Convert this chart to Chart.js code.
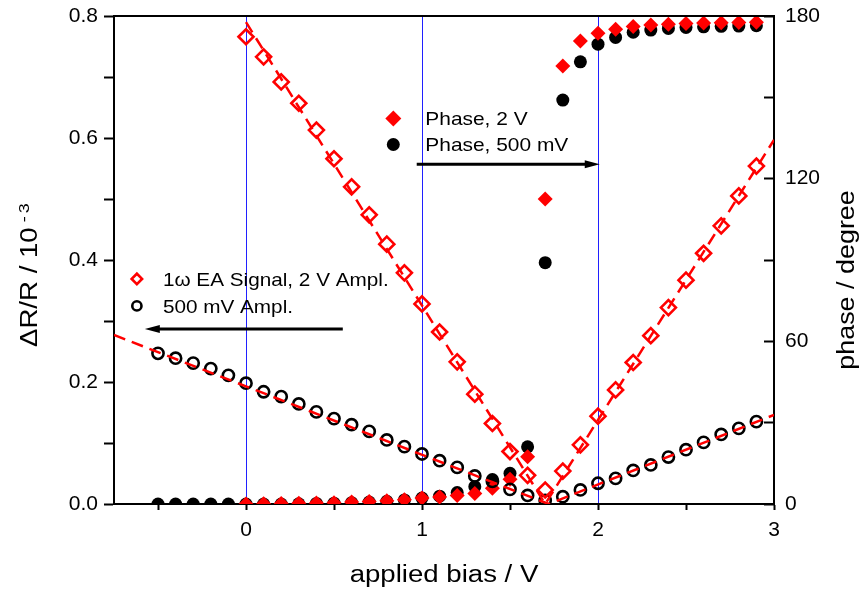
<!DOCTYPE html>
<html>
<head>
<meta charset="utf-8">
<script src="https://cdn.jsdelivr.net/npm/chart.js@4"></script>
<style>
  html, body { margin: 0; padding: 0; background: #fff; }
  canvas { display: block; }
</style>
</head>
<body>
<canvas id="c" width="862" height="592"></canvas>
<script>
// bias values (V)
const bias2V = [0.0,0.1,0.2,0.3,0.4,0.5,0.6,0.7,0.8,0.9,1.0,1.1,1.2,1.3,1.4,1.5,1.6,1.7,1.8,1.9,
                2.0,2.1,2.2,2.3,2.4,2.5,2.6,2.7,2.8,2.9];
const bias500 = [-0.5,-0.4,-0.3,-0.2,-0.1,0.0,0.1,0.2,0.3,0.4,0.5,0.6,0.7,0.8,0.9,1.0,1.1,1.2,1.3,1.4,
                 1.5,1.6,1.7,1.8,1.9,2.0,2.1,2.2,2.3,2.4,2.5,2.6,2.7,2.8,2.9];

// 1w EA signal dR/R (1e-3)
const ea2V = [0.766,0.733,0.692,0.657,0.613,0.566,0.520,0.474,0.426,0.379,0.328,0.282,0.233,0.180,0.132,
              0.086,0.047,0.023,0.054,0.097,0.144,0.187,0.232,0.276,0.322,0.367,0.411,0.456,0.505,0.554];
const ea500 = [0.247,0.239,0.231,0.222,0.211,0.198,0.184,0.176,0.164,0.151,0.140,0.130,0.119,0.105,0.094,
               0.082,0.071,0.060,0.046,0.037,0.024,0.014,0.006,0.012,0.023,0.034,0.042,0.055,0.064,0.077,
               0.089,0.101,0.114,0.124,0.135];

// phase (degree)
const phase2V = [0.0,0.1,0.2,0.3,0.4,0.5,0.7,0.9,1.2,1.6,2.2,2.6,3.1,3.9,5.8,9.1,17.4,112.5,161.6,170.8,
                 173.6,175.1,176.1,176.7,177.0,177.2,177.4,177.5,177.6,177.7];
const phase500 = [0,0,0,0,0,0,0,0,0.1,0.2,0.3,0.5,0.7,1.0,1.5,2.2,2.9,4.2,6.4,9.0,11.3,21.1,89.0,149.0,163.1,
                  169.6,172.1,174.0,174.8,175.4,175.8,176.0,176.2,176.3,176.4];

// dashed fit lines
const fit2VX = [0.0, 1.7, 3.0];
const fit2VY = [0.79, 0.0, 0.597];
const fit500X = [-0.75, 1.72, 3.0];
const fit500Y = [0.277, 0.0, 0.146];

// tick positions carrying labels
const xLabels = [0, 1, 2, 3];
const blueLines = [0, 1, 2];

const pts = (xs, ys) => xs.map((x, i) => ({x: x, y: ys[i]}));
const FONT = '"Liberation Sans", Arial, sans-serif';

function sText(ctx, txt, x, y, size, sx, rot, align) {
  ctx.save();
  ctx.translate(x, y);
  ctx.rotate(rot || 0);
  ctx.scale(sx, 1);
  ctx.font = size + 'px ' + FONT;
  ctx.fillStyle = '#000';
  ctx.textAlign = align || 'left';
  ctx.textBaseline = 'alphabetic';
  ctx.fillText(txt, 0, 0);
  ctx.restore();
}

function arrow(ctx, x1, x2, y) {
  const dir = Math.sign(x2 - x1);
  ctx.save();
  ctx.strokeStyle = '#000';
  ctx.fillStyle = '#000';
  ctx.lineWidth = 3;
  ctx.beginPath();
  ctx.moveTo(x1, y);
  ctx.lineTo(x2 - dir * 12, y);
  ctx.stroke();
  ctx.beginPath();
  ctx.moveTo(x2, y);
  ctx.lineTo(x2 - dir * 15, y - 4);
  ctx.lineTo(x2 - dir * 15, y + 4);
  ctx.closePath();
  ctx.fill();
  ctx.restore();
}

function marker(ctx, style, r, x, y, fill, stroke, bw) {
  ctx.save();
  ctx.fillStyle = fill;
  ctx.strokeStyle = stroke;
  ctx.lineWidth = bw;
  Chart.helpers.drawPoint(ctx, {pointStyle: style, radius: r, borderWidth: bw, rotation: 0}, x, y);
  ctx.restore();
}

// fixed box sizes so the plot area sits where the original one does
const noPad = s => { s.paddingTop = 0; s.paddingBottom = 0; s.paddingLeft = 0; s.paddingRight = 0; };

const decor = {
  id: 'decor',
  afterDatasetsDraw(chart) {
    const ctx = chart.ctx;
    const a = chart.chartArea;
    const sx = chart.scales.x, sy = chart.scales.y;

    // top frame line
    ctx.save();
    ctx.strokeStyle = '#000';
    ctx.lineWidth = 2;
    ctx.beginPath();
    ctx.moveTo(a.left - 1, a.top);
    ctx.lineTo(a.right + 1, a.top);
    ctx.stroke();
    ctx.restore();

    // arrows
    arrow(ctx, sx.getPixelForValue(0.55), sx.getPixelForValue(-0.575), sy.getPixelForValue(0.287));
    arrow(ctx, sx.getPixelForValue(0.97), sx.getPixelForValue(2.01), sy.getPixelForValue(0.557));

    // legend: EA signal
    let lx = sx.getPixelForValue(-0.62), ly = sy.getPixelForValue(0.369);
    marker(ctx, 'rectRot', 5.2, lx, ly, 'rgba(0,0,0,0)', '#ff0000', 2.6);
    marker(ctx, 'circle', 4.6, lx, ly + 27, 'rgba(0,0,0,0)', '#000', 2.6);
    sText(ctx, '1ω EA Signal, 2 V Ampl.', lx + 26, ly + 7, 18.5, 1.12);
    sText(ctx, '500 mV Ampl.', lx + 26, ly + 34, 18.5, 1.12);

    // legend: phase
    lx = sx.getPixelForValue(0.837); ly = sy.getPixelForValue(0.632);
    marker(ctx, 'rectRot', 8, lx, ly, '#ff0000', '#ff0000', 0);
    marker(ctx, 'circle', 6.5, lx, ly + 26, '#000', '#000', 0);
    sText(ctx, 'Phase, 2 V', lx + 32, ly + 7, 18.5, 1.13);
    sText(ctx, 'Phase, 500 mV', lx + 32, ly + 33, 18.5, 1.13);

    // axis titles
    sText(ctx, 'applied bias / V', (a.left + a.right) / 2, 582, 23, 1.2, 0, 'center');
    sText(ctx, 'phase / degree', 854, 280, 23, 1.17, -Math.PI / 2, 'center');
    // left title with superscript
    ctx.save();
    ctx.font = '23px ' + FONT;
    const mainW = ctx.measureText('ΔR/R / 10').width * 1.2;
    ctx.restore();
    const y0 = 347;
    sText(ctx, 'ΔR/R / 10', 37, y0, 23, 1.2, -Math.PI / 2, 'left');
    sText(ctx, '-', 29, y0 - mainW - 5, 15, 1.2, -Math.PI / 2, 'left');
    sText(ctx, '3', 29, y0 - mainW - 14, 15, 1.2, -Math.PI / 2, 'left');
  }
};

new Chart(document.getElementById('c'), {
  type: 'scatter',
  data: {
    datasets: [
      {
        label: 'fit 2 V',
        type: 'line',
        data: pts(fit2VX, fit2VY),
        borderColor: '#ff0000',
        borderWidth: 2.5,
        borderDash: [12, 7],
        pointRadius: 0,
        fill: false,
        yAxisID: 'y',
        order: 0
      },
      {
        label: 'fit 500 mV',
        type: 'line',
        data: pts(fit500X, fit500Y),
        borderColor: '#ff0000',
        borderWidth: 2.5,
        borderDash: [12, 7],
        pointRadius: 0,
        fill: false,
        yAxisID: 'y',
        order: 0
      },
      {
        label: '1ω EA Signal, 2 V Ampl.',
        data: pts(bias2V, ea2V),
        pointStyle: 'rectRot',
        pointRadius: 7.5,
        pointBorderWidth: 2.6,
        pointBorderColor: '#ff0000',
        pointBackgroundColor: 'rgba(0,0,0,0)',
        yAxisID: 'y',
        order: 1
      },
      {
        label: '500 mV Ampl.',
        data: pts(bias500, ea500),
        pointStyle: 'circle',
        pointRadius: 5.6,
        pointBorderWidth: 2.6,
        pointBorderColor: '#000',
        pointBackgroundColor: 'rgba(0,0,0,0)',
        yAxisID: 'y',
        order: 2
      },
      {
        label: 'Phase, 2 V',
        data: pts(bias2V, phase2V),
        pointStyle: 'rectRot',
        pointRadius: 7.5,
        pointBorderWidth: 0,
        pointBackgroundColor: '#ff0000',
        yAxisID: 'y2',
        clip: 0,
        order: 3
      },
      {
        label: 'Phase, 500 mV',
        data: pts(bias500, phase500),
        pointStyle: 'circle',
        pointRadius: 6.5,
        pointBorderWidth: 0,
        pointBackgroundColor: '#000',
        yAxisID: 'y2',
        clip: 0,
        order: 4
      }
    ]
  },
  options: {
    responsive: false,
    animation: false,
    layout: { padding: { top: 16, left: 0, right: 0, bottom: 0 } },
    plugins: { legend: { display: false }, tooltip: { enabled: false } },
    scales: {
      x: {
        type: 'linear',
        min: -0.75,
        max: 3,
        afterFit: s => { s.height = 88; noPad(s); },
        border: { display: true, color: '#000', width: 2 },
        grid: {
          drawOnChartArea: true,
          color: c => (c.tick && blueLines.includes(c.tick.value)) ? '#2020ff' : 'rgba(0,0,0,0)',
          lineWidth: 1,
          tickColor: '#000',
          tickWidth: 2,
          tickLength: 6
        },
        ticks: {
          stepSize: 0.5,
          includeBounds: false,
          autoSkip: false,
          maxRotation: 0,
          padding: 8,
          color: '#000',
          font: { family: FONT, size: 21 },
          callback: v => xLabels.includes(v) ? String(v) : ''
        }
      },
      y: {
        position: 'left',
        min: 0,
        max: 0.8,
        afterFit: s => { s.width = 114; noPad(s); },
        border: { display: true, color: '#000', width: 2 },
        grid: { drawOnChartArea: false, tickColor: '#000', tickWidth: 2, tickLength: 10 },
        ticks: {
          stepSize: 0.1,
          autoSkip: false,
          padding: 6,
          color: '#000',
          font: { family: FONT, size: 21 },
          callback: v => Math.round(v * 10) % 2 === 0 ? v.toFixed(1) : ''
        }
      },
      y2: {
        position: 'right',
        min: 0,
        max: 180,
        afterFit: s => { s.width = 88; noPad(s); },
        border: { display: true, color: '#000', width: 2 },
        grid: { drawOnChartArea: false, tickColor: '#000', tickWidth: 2, tickLength: -10 },
        ticks: {
          stepSize: 30,
          autoSkip: false,
          padding: 21,
          color: '#000',
          font: { family: FONT, size: 21 },
          callback: v => v % 60 === 0 ? String(v) : ''
        }
      }
    }
  },
  plugins: [decor]
});
</script>
</body>
</html>
